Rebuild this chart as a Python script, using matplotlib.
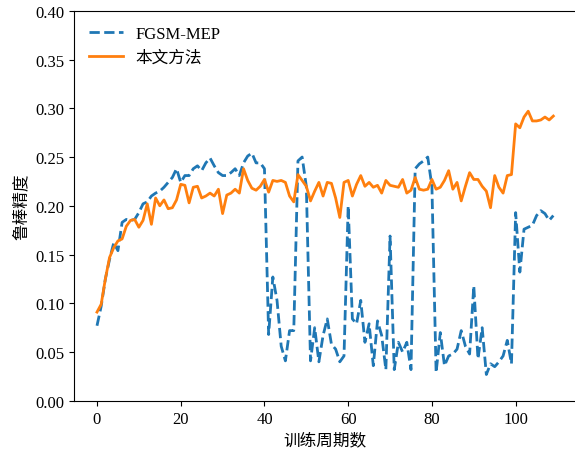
import numpy as np
import matplotlib
matplotlib.use('Agg')
import matplotlib.pyplot as plt
from matplotlib.ticker import FormatStrFormatter

plt.rcParams['font.family'] = ['Liberation Serif', 'Noto Sans CJK SC']
plt.rcParams['font.size'] = 12

# Robust accuracy per epoch
epochs = np.arange(110)

fgsm_mep = [
    0.077, 0.097, 0.125, 0.145, 0.162, 0.154, 0.183, 0.186, 0.185, 0.186,
    0.193, 0.202, 0.204, 0.210, 0.213, 0.215, 0.219, 0.224, 0.229, 0.238,
    0.224, 0.231, 0.231, 0.238, 0.241, 0.236, 0.244, 0.249, 0.241, 0.234,
    0.231, 0.231, 0.234, 0.238, 0.231, 0.244, 0.251, 0.254, 0.244, 0.244,
    0.238, 0.068, 0.127, 0.103, 0.056, 0.041, 0.072, 0.072, 0.246, 0.250,
    0.220, 0.041, 0.075, 0.040, 0.067, 0.084, 0.058, 0.053, 0.040, 0.046,
    0.200, 0.084, 0.079, 0.103, 0.060, 0.079, 0.036, 0.082, 0.067, 0.032,
    0.169, 0.032, 0.060, 0.050, 0.060, 0.032, 0.238, 0.243, 0.246, 0.250,
    0.220, 0.029, 0.070, 0.036, 0.046, 0.048, 0.053, 0.072, 0.056, 0.048,
    0.118, 0.043, 0.075, 0.027, 0.038, 0.035, 0.040, 0.046, 0.062, 0.038,
    0.193, 0.132, 0.176, 0.178, 0.180, 0.190, 0.195, 0.192, 0.185, 0.190,
]

ours = [
    0.091, 0.099, 0.125, 0.147, 0.157, 0.164, 0.166, 0.179, 0.185, 0.186,
    0.178, 0.185, 0.202, 0.181, 0.208, 0.200, 0.206, 0.197, 0.198, 0.206,
    0.222, 0.221, 0.203, 0.219, 0.220, 0.208, 0.210, 0.213, 0.210, 0.217,
    0.192, 0.211, 0.213, 0.217, 0.213, 0.238, 0.226, 0.218, 0.216, 0.220,
    0.227, 0.214, 0.226, 0.225, 0.226, 0.224, 0.210, 0.204, 0.232, 0.226,
    0.220, 0.205, 0.215, 0.224, 0.210, 0.224, 0.223, 0.208, 0.188, 0.224,
    0.226, 0.210, 0.222, 0.231, 0.220, 0.224, 0.219, 0.221, 0.213, 0.226,
    0.221, 0.220, 0.219, 0.227, 0.213, 0.216, 0.229, 0.217, 0.216, 0.217,
    0.227, 0.217, 0.219, 0.226, 0.236, 0.217, 0.224, 0.205, 0.220, 0.234,
    0.227, 0.227, 0.220, 0.215, 0.198, 0.231, 0.219, 0.213, 0.231, 0.232,
    0.284, 0.280, 0.291, 0.297, 0.287, 0.287, 0.288, 0.291, 0.288, 0.292,
]

fig = plt.figure(figsize=(5.75, 4.52), dpi=100)
ax = fig.add_axes([0.129, 0.111, 0.873, 0.863])

ax.plot(epochs, fgsm_mep, '--', color='tab:blue', linewidth=2, label='FGSM-MEP')
ax.plot(epochs, ours, '-', color='tab:orange', linewidth=2, label='本文方法')

ax.set_ylim(0, 0.40)
ax.set_yticks(np.arange(0, 0.401, 0.05))
ax.yaxis.set_major_formatter(FormatStrFormatter('%.2f'))
ax.set_xlabel('训练周期数')
ax.set_ylabel('鲁棒精度')
ax.legend(loc='upper left', frameon=False)

fig.savefig('out.png', dpi=100)
